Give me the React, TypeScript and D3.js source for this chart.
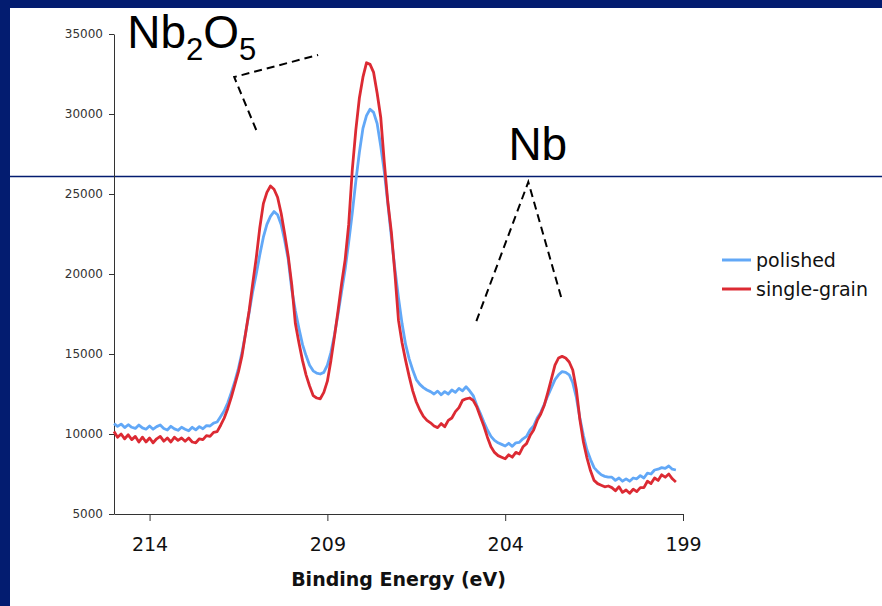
import { useEffect, useRef } from 'react';
import * as d3 from 'd3';

const WIDTH = 882;
const HEIGHT = 606;
const NAVY = '#031c70';

// spectra sampled every 0.1 eV, starting at 215 eV and going down
const START_EV = 215;
const STEP_EV = 0.1;

const polished = [
  10650, 10480, 10620, 10400, 10580, 10420, 10350, 10560, 10380, 10300,
  10500, 10300, 10460, 10560, 10340, 10250, 10480, 10320, 10230, 10420,
  10300, 10200, 10420, 10260, 10460, 10330, 10520, 10500, 10680, 10750,
  11100, 11450, 11950, 12600, 13300, 14100, 15100, 16300, 17600, 18900,
  20000, 21200, 22300, 23100, 23600, 23900, 23700, 23100, 22100, 20900,
  19000, 17700, 16600, 15600, 14900, 14300, 13950, 13800, 13750, 13850,
  14300, 15100, 16200, 17500, 18900, 20300, 22000, 23800, 25800, 27600,
  29100, 29900, 30300, 30100, 29400, 28000, 26400, 24400, 22300, 20300,
  18500, 16900, 15600, 14700, 14000, 13400, 13100, 12900, 12750, 12650,
  12500, 12680, 12450, 12650, 12500, 12750, 12600, 12850, 12700, 12950,
  12700, 12400, 11800, 11300, 10750, 10250, 9850, 9600, 9450, 9350,
  9250, 9420, 9230, 9450, 9480, 9700, 9850, 10250, 10500, 11000,
  11350, 11850, 12400, 12900, 13400, 13700, 13900, 13850, 13700, 13200,
  12300, 11000, 9900, 9000, 8400, 7900, 7650, 7450, 7350, 7300,
  7300, 7100, 7250, 7050, 7200, 7050, 7250, 7200, 7400, 7250,
  7550, 7500, 7750, 7800, 7900, 7850, 8000, 7800, 7750
];

const singleGrain = [
  10150, 9800, 10000, 9700, 9950, 9650, 9850, 9500, 9800, 9500,
  9750, 9450, 9700, 9850, 9550, 9750, 9500, 9800, 9600, 9750,
  9550, 9750, 9500, 9450, 9700, 9650, 9900, 9850, 10100, 10150,
  10550, 11000, 11600, 12300, 13100, 13900, 14900, 16300, 17700, 19400,
  21000, 22900, 24400, 25100, 25500, 25300, 24800, 23800, 22500, 21100,
  19300, 16900, 15700, 14600, 13700, 13000, 12400, 12250, 12200, 12600,
  13300, 14600, 16100, 17700, 19400, 20900, 23100, 26500, 29000, 31000,
  32300, 33200, 33100, 32600, 31300, 29800, 27000, 24500, 22600, 20000,
  17100, 15700, 14600, 13600, 12700, 12000, 11500, 11100, 10850, 10700,
  10500, 10400, 10650, 10450, 10850, 11000, 11400, 11650, 12100, 12200,
  12250, 12100, 11700, 11100, 10500, 9800, 9200, 8850, 8650, 8550,
  8450, 8700, 8550, 8850, 8750, 9200, 9400, 9900, 10250, 10850,
  11250, 11800, 12600, 13450, 14300, 14750, 14850, 14750, 14500, 14000,
  12800, 10900, 9500, 8500, 7700, 7100, 6900, 6800, 6700, 6750,
  6650, 6450, 6700, 6350, 6500, 6300, 6550, 6400, 6650, 6650,
  7050, 6900, 7250, 7100, 7450, 7300, 7500, 7200, 7000
];

const seriesNames = ['polished', 'single-grain'];
const seriesColors = ['#62a8f7', '#dc2a33'];
const xTickValues = [214, 209, 204, 199];
const yTickValues = [5000, 10000, 15000, 20000, 25000, 30000, 35000];

// annotation anchors, in eV / counts
const oxideLabelAt: [number, number] = [214.63, 34125];
const oxidePointer: [number, number][] = [[211.0, 29000], [211.62, 32310], [209.26, 33690]];
const metalLabelAt: [number, number] = [203.91, 27125];
const metalPointer: [number, number][] = [[204.81, 17060], [203.35, 25750], [202.42, 18500]];

const margin = { top: 34, right: 199, bottom: 92, left: 114 };

export default function App() {
  const svgRef = useRef<SVGSVGElement | null>(null);

  useEffect(() => {
    document.body.style.margin = '0';
    if (!svgRef.current) return;
    const svg = d3.select(svgRef.current);
    svg.selectAll('*').remove();

    const x = d3.scaleLinear().domain([215, 199]).range([margin.left, WIDTH - margin.right]);
    const y = d3.scaleLinear().domain([5000, 35000]).range([HEIGHT - margin.bottom, margin.top]);

    // slide frame
    svg.append('rect').attr('width', WIDTH).attr('height', HEIGHT).attr('fill', '#fff');
    svg.append('rect').attr('width', WIDTH).attr('height', 8).attr('fill', NAVY);
    svg.append('rect').attr('width', 10).attr('height', HEIGHT).attr('fill', NAVY);
    svg.append('line')
      .attr('x1', 10).attr('x2', WIDTH)
      .attr('y1', 176.5).attr('y2', 176.5)
      .attr('stroke', NAVY).attr('stroke-width', 1.5);

    // axes
    const xAxis = svg.append('g')
      .attr('transform', `translate(0,${HEIGHT - margin.bottom})`)
      .call(d3.axisBottom(x).tickValues(xTickValues).tickSize(7).tickSizeOuter(0).tickPadding(17));
    xAxis.selectAll('text')
      .attr('font-family', '"DejaVu Sans", Verdana, sans-serif')
      .attr('font-size', 19)
      .attr('fill', '#111');

    const yAxis = svg.append('g')
      .attr('transform', `translate(${margin.left},0)`)
      .call(d3.axisLeft(y).tickValues(yTickValues).tickFormat(d3.format('d')).tickSize(5).tickSizeOuter(0).tickPadding(6));
    yAxis.selectAll('text')
      .attr('font-family', '"DejaVu Sans", Verdana, sans-serif')
      .attr('font-size', 12)
      .attr('fill', '#333');

    svg.selectAll('.domain, .tick line').attr('stroke', '#333');

    svg.append('text')
      .attr('x', (x.range()[0] + x.range()[1]) / 2)
      .attr('y', 586)
      .attr('text-anchor', 'middle')
      .attr('font-family', '"DejaVu Sans", Verdana, sans-serif')
      .attr('font-weight', 'bold')
      .attr('font-size', 19)
      .attr('fill', '#111')
      .text('Binding Energy (eV)');

    // spectra
    const line = d3.line<number>()
      .x((_, i) => x(START_EV - i * STEP_EV))
      .y(d => y(d));

    [polished, singleGrain].forEach((values, i) => {
      svg.append('path')
        .datum(values)
        .attr('d', line)
        .attr('fill', 'none')
        .attr('stroke', seriesColors[i])
        .attr('stroke-width', 2.8)
        .attr('stroke-linejoin', 'round');
    });

    // legend
    const legend = svg.append('g').attr('transform', 'translate(722,260)');
    seriesNames.forEach((name, i) => {
      const row = legend.append('g').attr('transform', `translate(0,${i * 29})`);
      row.append('line').attr('x1', 0).attr('x2', 29)
        .attr('stroke', seriesColors[i]).attr('stroke-width', 3);
      row.append('text')
        .attr('x', 34).attr('y', 6.5)
        .attr('font-family', '"DejaVu Sans", Verdana, sans-serif')
        .attr('font-size', 19)
        .attr('fill', '#111')
        .text(name);
    });

    // annotations
    const pointer = d3.line<[number, number]>().x(d => x(d[0])).y(d => y(d[1]));
    [oxidePointer, metalPointer].forEach(pts => {
      svg.append('path')
        .attr('d', pointer(pts))
        .attr('fill', 'none')
        .attr('stroke', '#000')
        .attr('stroke-width', 2)
        .attr('stroke-dasharray', '8 5');
    });

    const oxide = svg.append('text')
      .attr('x', x(oxideLabelAt[0]))
      .attr('y', y(oxideLabelAt[1]))
      .attr('font-family', '"Liberation Sans", Arial, sans-serif')
      .attr('font-size', 46)
      .attr('fill', '#000');
    oxide.append('tspan').text('Nb');
    oxide.append('tspan').attr('font-size', 31).attr('dy', 12).text('2');
    oxide.append('tspan').attr('dy', -12).text('O');
    oxide.append('tspan').attr('font-size', 31).attr('dy', 12).text('5');

    svg.append('text')
      .attr('x', x(metalLabelAt[0]))
      .attr('y', y(metalLabelAt[1]))
      .attr('font-family', '"Liberation Sans", Arial, sans-serif')
      .attr('font-size', 46)
      .attr('fill', '#000')
      .text('Nb');
  }, []);

  return (
    <svg ref={svgRef} width={WIDTH} height={HEIGHT} style={{ display: 'block' }} />
  );
}
